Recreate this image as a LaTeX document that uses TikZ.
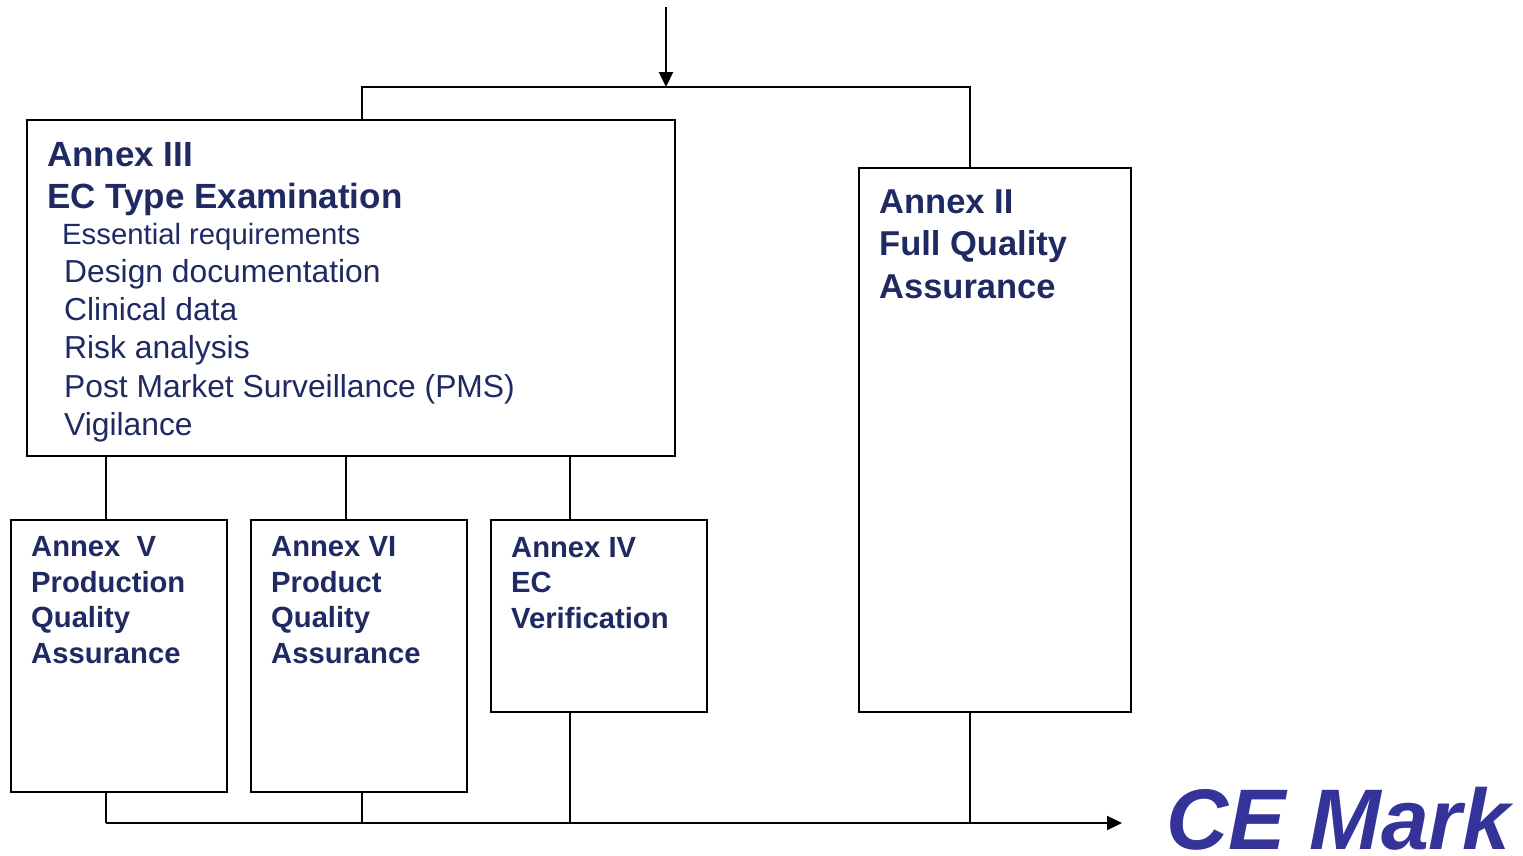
\documentclass[tikz,border=0pt]{standalone}
\usepackage{fontspec}
\setmainfont{Liberation Sans}
\usetikzlibrary{arrows.meta}
\definecolor{navy}{HTML}{1F2A62}
\definecolor{cemark}{HTML}{333399}
\begin{document}
\begin{tikzpicture}[x=1pt,y=-1pt,
  box/.style={draw=black,line width=2pt,anchor=north west,inner sep=0pt},
  wire/.style={line width=2pt,draw=black},
  tip/.style={-{Triangle[length=15pt,width=14pt]}},
  head/.style={anchor=base west,inner sep=0pt,text=navy,font=\bfseries\fontsize{35}{42}\selectfont},
  item/.style={anchor=base west,inner sep=0pt,text=navy,font=\fontsize{31.8}{38}\selectfont},
  small/.style={anchor=base west,inner sep=0pt,text=navy,align=left,font=\bfseries\fontsize{29.2}{35.5}\selectfont},
  big/.style={anchor=base west,inner sep=0pt,text=navy,align=left,font=\bfseries\fontsize{34.5}{42.5}\selectfont}]
\useasboundingbox (0,0) rectangle (1523,855);

% boxes
\node[box,minimum width=648pt,minimum height=336pt] (a3) at (26,119) {};
\node[box,minimum width=272pt,minimum height=544pt] (a2) at (858,167) {};
\node[box,minimum width=216pt,minimum height=272pt] (a5) at (10,519) {};
\node[box,minimum width=216pt,minimum height=272pt] (a6) at (250,519) {};
\node[box,minimum width=216pt,minimum height=192pt] (a4) at (490,519) {};

% texts (multi-line nodes sit on the baseline of their last line)
\node[head] (t3a) at (47,166) {Annex III};
\node[head] (t3b) at (47,208) {EC Type Examination};
\node[item,font=\fontsize{29.3}{34}\selectfont] (i1) at (62,244) {Essential requirements};
\node[item] (i2) at (64,282) {Design documentation};
\node[item] (i3) at (64,320) {Clinical data};
\node[item] (i4) at (64,358) {Risk analysis};
\node[item] (i5) at (64,397) {Post Market Surveillance (PMS)};
\node[item] (i6) at (64,435) {Vigilance};

\node[big] (t2) at (879,298) {Annex II\\Full Quality\\Assurance};
\node[small] (t5) at (31,663) {Annex\ \ V\\Production\\Quality\\Assurance};
\node[small] (t6) at (271,663) {Annex VI\\Product\\Quality\\Assurance};
\node[small] (t4) at (511,628) {Annex IV\\EC\\Verification};

\node[anchor=base west,inner sep=0pt,text=cemark,font=\bfseries\itshape\fontsize{86}{90}\selectfont] (ce) at (1166,849) {CE Mark};

% column and rail coordinates
\coordinate (top) at (666,7);
\coordinate (rail) at (0,87);
\coordinate (base) at (0,823);
\coordinate (c1) at (106,0);
\coordinate (c2) at (346,0);
\coordinate (c3) at (570,0);
\coordinate (c4) at (362,0);
\coordinate (c5) at (970,0);
\coordinate (out) at (1122,823);

% entry
\draw[wire,tip] (top) -- (top |- rail);
\draw[wire] (c4 |- a3.north) -- (c4 |- rail) -- (c5 |- rail) -- (c5 |- a2.north);

% Annex III to the production annexes
\draw[wire] (c1 |- a3.south) -- (c1 |- a5.north);
\draw[wire] (c2 |- a3.south) -- (c2 |- a6.north);
\draw[wire] (c3 |- a3.south) -- (c3 |- a4.north);

% to the CE mark
\draw[wire] (c1 |- a5.south) -- (c1 |- base);
\draw[wire] (c4 |- a6.south) -- (c4 |- base);
\draw[wire] (c3 |- a4.south) -- (c3 |- base);
\draw[wire] (c5 |- a2.south) -- (c5 |- base);
\draw[wire,tip] (c1 |- base) -- (out);
\end{tikzpicture}
\end{document}
